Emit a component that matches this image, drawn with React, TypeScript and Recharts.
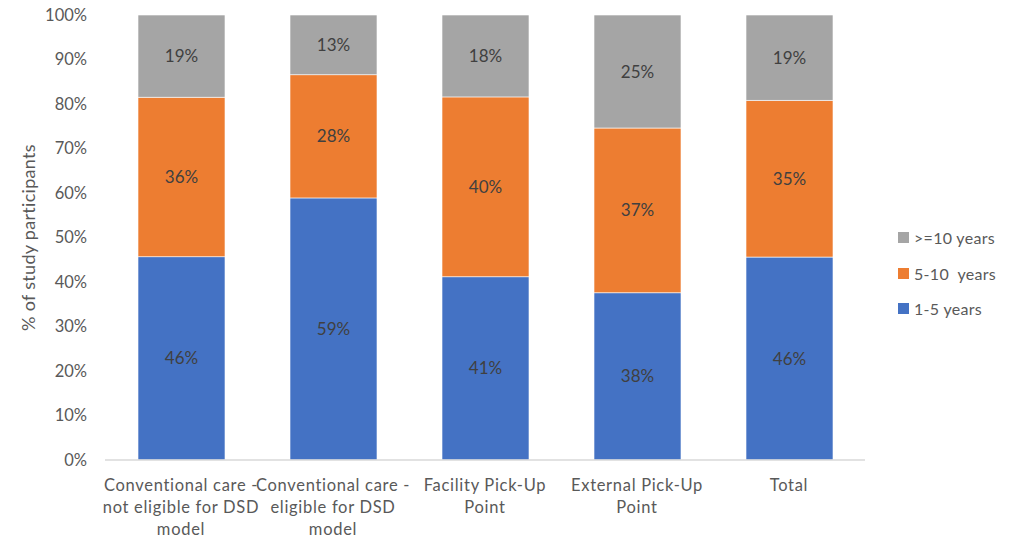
import React from "react";
import { BarChart, Bar, XAxis, YAxis, LabelList, Label } from "recharts";

// Delivery models shown along the x axis (each line is one row of the label)
const categories: string[][] = [
  ["Conventional care -", "not eligible for DSD", "model"],
  ["Conventional care -", "eligible for DSD", "model"],
  ["Facility Pick-Up", "Point"],
  ["External Pick-Up", "Point"],
  ["Total"],
];

// Share of participants (%) by time on ART
const oneToFive = [45.7, 58.9, 41.2, 37.6, 45.6];
const fiveToTen = [35.8, 27.7, 40.4, 37.0, 35.2];
const tenPlus = [18.5, 13.4, 18.4, 25.4, 19.2];

const yTicks = [0, 10, 20, 30, 40, 50, 60, 70, 80, 90, 100];

const seriesInfo = [
  { key: "oneToFive", name: "1-5 years", color: "#4472C4" },
  { key: "fiveToTen", name: "5-10  years", color: "#ED7D31" },
  { key: "tenPlus", name: ">=10 years", color: "#A5A5A5" },
];

const data = categories.map((lines, i) => ({
  name: lines.join(" "),
  oneToFive: oneToFive[i],
  fiveToTen: fiveToTen[i],
  tenPlus: tenPlus[i],
}));

const FONT = "Lato, 'Open Sans', sans-serif";
const AXIS_TEXT = "#595959";

const CategoryTick = (props: any) => {
  const { x, y, payload, index } = props;
  const lines = categories[index] ?? [String(payload.value)];
  return (
    <text
      x={x}
      y={y}
      textAnchor="middle"
      fill={AXIS_TEXT}
      fontSize={16.5}
      letterSpacing={0.7}
      fontFamily={FONT}
    >
      {lines.map((ln, i) => (
        <tspan key={i} x={x} dy={i === 0 ? 23 : 22}>
          {ln}
        </tspan>
      ))}
    </text>
  );
};

const YTitle = (props: any) => {
  const { x, y, height } = props.viewBox;
  return (
    <text
      transform={`translate(${x + 28}, ${y + height / 2}) rotate(-90)`}
      textAnchor="middle"
      dominantBaseline="central"
      fill={AXIS_TEXT}
      fontSize={18}
      letterSpacing={0.3}
      fontFamily={FONT}
    >
      % of study participants
    </text>
  );
};

const pct = (v: any) => `${Math.round(Number(v))}%`;

export default function App() {
  return (
    <div style={{ position: "absolute", left: 0, top: 0, width: 1015, height: 540, background: "#fff" }}>
      <BarChart
        width={1015}
        height={540}
        data={data}
        margin={{ top: 15, right: 150, bottom: 0, left: 0 }}
        barSize={87}
      >
        <XAxis
          dataKey="name"
          tick={<CategoryTick />}
          tickLine={false}
          axisLine={{ stroke: "#D9D9D9", strokeWidth: 1.5 }}
          height={80}
          interval={0}
        />
        <YAxis
          width={105}
          domain={[0, 100]}
          ticks={yTicks}
          tickFormatter={(v) => `${v}%`}
          axisLine={false}
          tickLine={false}
          tickMargin={12}
          tick={{ fill: AXIS_TEXT, fontSize: 16.5, fontFamily: FONT }}
        >
          <Label content={<YTitle />} />
        </YAxis>
        {seriesInfo.map((s) => (
          <Bar
            key={s.key}
            dataKey={s.key}
            name={s.name}
            stackId="a"
            fill={s.color}
            stroke="#FFFFFF"
            strokeOpacity={0.6}
            strokeWidth={1}
            isAnimationActive={false}
          >
            <LabelList
              dataKey={s.key}
              position="center"
              formatter={pct}
              fill="#404040"
              fontSize={17}
              fontFamily={FONT}
            />
          </Bar>
        ))}
      </BarChart>
      {/* series key, top series first */}
      <div
        style={{
          position: "absolute",
          left: 898,
          top: 220,
          fontFamily: FONT,
          fontSize: 16,
          color: AXIS_TEXT,
          letterSpacing: 0.3,
        }}
      >
        {[...seriesInfo].reverse().map((s) => (
          <div key={s.key} style={{ display: "flex", alignItems: "center", height: 35.5 }}>
            <span
              style={{ width: 11, height: 11, background: s.color, display: "inline-block", marginRight: 5 }}
            />
            <span style={{ whiteSpace: "pre" }}>{s.name}</span>
          </div>
        ))}
      </div>
    </div>
  );
}
